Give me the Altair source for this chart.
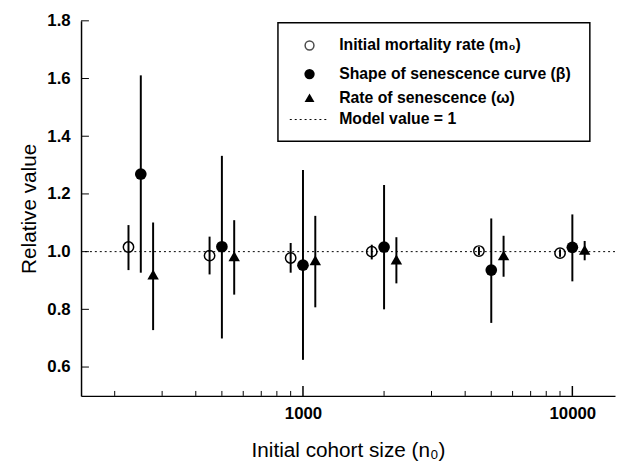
import altair as alt
import pandas as pd

# ---- data ----
n0 = [250, 500, 1000, 2000, 5000, 10000]

m0_mean = [1.016, 0.986, 0.978, 1.000, 1.002, 0.995]
m0_lo = [0.936, 0.921, 0.927, 0.973, 0.988, 0.982]
m0_hi = [1.092, 1.052, 1.030, 1.024, 1.016, 1.008]

beta_mean = [1.269, 1.017, 0.953, 1.016, 0.936, 1.015]
beta_lo = [0.927, 0.699, 0.625, 0.800, 0.753, 0.897]
beta_hi = [1.611, 1.332, 1.283, 1.231, 1.115, 1.129]

omega_mean = [0.921, 0.984, 0.970, 0.973, 0.987, 1.006]
omega_lo = [0.728, 0.851, 0.807, 0.890, 0.913, 0.970]
omega_hi = [1.101, 1.109, 1.124, 1.050, 1.055, 1.037]

x_labels = [1000, 10000]
x_minor = [200, 300, 400, 500, 600, 700, 800, 900,
           2000, 3000, 4000, 5000, 6000, 7000, 8000, 9000]
y_ticks = [0.6, 0.8, 1.0, 1.2, 1.4, 1.6, 1.8]
model_value = 1.0

legend_labels = ["Initial mortality rate (m\u2080)",
                 "Shape of senescence curve (\u03b2)",
                 "Rate of senescence (\u03c9)",
                 "Model value = 1"]

# ---- layout / style ----
W, H = 541, 380
DODGE = 1.111
FONT = "Liberation Sans"

def frame(mean, lo, hi, factor):
    return pd.DataFrame({
        "x": [v * factor for v in n0],
        "mean": mean, "lo": lo, "hi": hi,
    })

df_m0 = frame(m0_mean, m0_lo, m0_hi, 1 / DODGE)
df_beta = frame(beta_mean, beta_lo, beta_hi, 1.0)
df_omega = frame(omega_mean, omega_lo, omega_hi, DODGE)

XS = alt.Scale(type="log", domain=[150, 14400], nice=False)
YS = alt.Scale(domain=[0.5, 1.8], nice=False, zero=False)
XA = alt.Axis(title="Initial cohort size (n\u2080)", values=x_labels, format="d",
              ticks=False, grid=False, labelPadding=10, titlePadding=18)
YA = alt.Axis(title="Relative value", values=y_ticks, format=".1f",
              ticks=False, grid=False, labelPadding=11, titlePadding=8)


def X(field):
    return alt.X(field, type="quantitative", scale=XS, axis=XA)


def Y(field):
    return alt.Y(field, type="quantitative", scale=YS, axis=YA)


ref = alt.Chart(pd.DataFrame({"v": [model_value]})).mark_rule(
    color="black", strokeDash=[2, 3], strokeWidth=1
).encode(y=Y("v"))

layers = [ref]
for df, shape, filled, size in [
    (df_m0, "circle", False, 110),
    (df_beta, "circle", True, 140),
    (df_omega, "triangle-up", True, 135),
]:
    bars = alt.Chart(df).mark_rule(color="black", strokeWidth=2).encode(
        x=X("x"), y=Y("lo"), y2="hi"
    )
    pts = alt.Chart(df).mark_point(
        shape=shape, filled=filled, size=size, color="black",
        strokeWidth=1.5, opacity=1
    ).encode(x=X("x"), y=Y("mean"))
    layers += [bars, pts]

# inward ticks
ytick = alt.Chart(pd.DataFrame({"v": y_ticks})).mark_rule(
    color="black", strokeWidth=1).encode(y=Y("v"), x=alt.value(0), x2=alt.value(8))
xmaj = alt.Chart(pd.DataFrame({"v": x_labels})).mark_rule(
    color="black", strokeWidth=1.5).encode(x=X("v"), y=alt.value(H), y2=alt.value(H - 10))
xmin = alt.Chart(pd.DataFrame({"v": x_minor})).mark_rule(
    color="black", strokeWidth=1).encode(x=X("v"), y=alt.value(H), y2=alt.value(H - 5))
layers += [ytick, xmaj, xmin]

# legend box
one = pd.DataFrame({"a": [0]})
box = alt.Chart(one).mark_rect(fill="white", stroke="black", strokeWidth=1.5).encode(
    x=alt.value(199.5), x2=alt.value(515.5), y=alt.value(2), y2=alt.value(122))
rows = [25, 54, 78, 100]
sym_x = 231.5
leg = [box,
       alt.Chart(one).mark_point(shape="circle", filled=False, size=80, color="black",
                                 strokeWidth=1.5).encode(x=alt.value(sym_x), y=alt.value(rows[0])),
       alt.Chart(one).mark_point(shape="circle", filled=True, size=110, color="black",
                                 opacity=1).encode(x=alt.value(sym_x), y=alt.value(rows[1])),
       alt.Chart(one).mark_point(shape="triangle-up", filled=True, size=100, color="black",
                                 opacity=1).encode(x=alt.value(sym_x), y=alt.value(rows[2])),
       alt.Chart(one).mark_rule(color="black", strokeDash=[2, 3], strokeWidth=1).encode(
           x=alt.value(211.5), x2=alt.value(248.5), y=alt.value(rows[3])),
       ]
for lab, ry in zip(legend_labels, rows):
    leg.append(alt.Chart(pd.DataFrame({"t": [lab]})).mark_text(
        align="left", baseline="middle", font=FONT, fontSize=16, fontWeight="bold",
        color="black").encode(text="t:N", x=alt.value(261.5), y=alt.value(ry)))
layers += leg

chart = alt.layer(*layers).properties(
    width=W, height=H,
    padding={"left": 10, "top": 1, "right": 0, "bottom": 0},
).configure_view(stroke=None).configure_axis(
    labelFont=FONT, labelFontSize=17, labelFontWeight="bold", labelColor="black",
    titleFont=FONT, titleFontSize=21, titleFontWeight="normal", titleColor="black",
    domainColor="black", domainWidth=1.5,
)

chart.save("out.html", embed_options={"renderer": "svg", "actions": False})
